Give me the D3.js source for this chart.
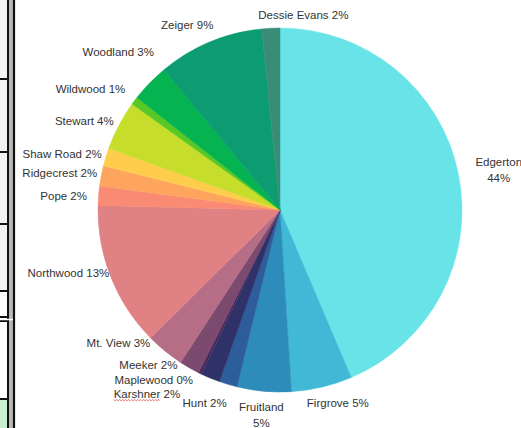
<!DOCTYPE html>
<html>
<head>
<meta charset="utf-8">
<script src="https://cdn.jsdelivr.net/npm/d3@7"></script>
<style>
  html, body { margin: 0; padding: 0; background: #fff; }
  svg { display: block; }
  .lbl { font-family: "Liberation Sans", Arial, sans-serif; font-size: 11.5px; fill: #333; }
</style>
</head>
<body>
<svg id="chart" width="521" height="428"></svg>
<script>
// Share of total by school
const schools = ["Edgerton", "Firgrove", "Fruitland", "Hunt", "Karshner", "Maplewood",
  "Meeker", "Mt. View", "Northwood", "Pope", "Ridgecrest", "Shaw Road", "Stewart",
  "Wildwood", "Woodland", "Zeiger", "Dessie Evans"];
const shares = [43.6, 5.4, 4.8, 1.6, 1.7, 0.3, 1.8, 3.4, 12.8, 1.7, 1.8, 1.6, 4.4, 0.7, 3.4, 9.4, 1.6];
const sliceColors = ["#68e4e8", "#41b8d5", "#2e8cbb", "#2d5e9b", "#2e3268", "#4b2c60",
  "#7d4a6f", "#b56e85", "#e08184", "#f98b74", "#fda45f", "#ffcd4b", "#c6de2b",
  "#57c826", "#05b350", "#0d9c72", "#3a8c79"];

// Hand-placed label offsets (px) from the default label ring, plus which labels wrap
const labelNudge = {
  "Edgerton": [11, 2], "Firgrove": [9, -13], "Fruitland": [0, -6], "Hunt": [-15, -10],
  "Karshner": [-52, -12], "Maplewood": [-33, -20], "Meeker": [-26, -29],
  "Mt. View": [-27.5, -31], "Northwood": [-14.5, -15], "Pope": [-5, 3],
  "Ridgecrest": [-12, 3], "Shaw Road": [-15, 6], "Stewart": [-8, 10],
  "Wildwood": [-20, 6], "Woodland": [-10, -10], "Zeiger": [-11, 11], "Dessie Evans": [34, 17]
};
const wrapped = new Set(["Edgerton", "Fruitland"]);

const svg = d3.select("#chart");

// Spreadsheet grid peeking in at the left edge
const gridRows = [
  { y0: 0, y1: 79, fill: "#f2f2f2" },
  { y0: 79, y1: 152, fill: "#f2f2f2" },
  { y0: 152, y1: 224, fill: "#f2f2f2" },
  { y0: 224, y1: 291, fill: "#f2f2f2" },
  { y0: 291, y1: 318, fill: "#ffffff" },
  { y0: 321, y1: 399, fill: "#ffffff" },
  { y0: 399, y1: 428, fill: "#c6efce" }
];
const grid = svg.append("g");
grid.selectAll("rect.cell").data(gridRows).join("rect")
  .attr("x", 0).attr("y", d => d.y0).attr("width", 8).attr("height", d => d.y1 - d.y0)
  .attr("fill", d => d.fill);
grid.selectAll("line.row").data(gridRows.slice(1)).join("line")
  .attr("x1", 0).attr("x2", 8).attr("y1", d => d.y0).attr("y2", d => d.y0)
  .attr("stroke", "#111").attr("stroke-width", 2);
grid.append("line").attr("x1", 0).attr("x2", 8).attr("y1", 317).attr("y2", 317)
  .attr("stroke", "#111").attr("stroke-width", 2);
grid.append("rect").attr("x", 9).attr("y", 0).attr("width", 4).attr("height", 428).attr("fill", "#b8b8b8");
grid.append("line").attr("x1", 8).attr("x2", 8).attr("y1", 0).attr("y2", 428)
  .attr("stroke", "#111").attr("stroke-width", 2);
grid.append("line").attr("x1", 14).attr("x2", 14).attr("y1", 0).attr("y2", 428)
  .attr("stroke", "#111").attr("stroke-width", 2.2);
grid.append("line").attr("x1", 0).attr("x2", 13).attr("y1", 319.5).attr("y2", 319.5)
  .attr("stroke", "#fff").attr("stroke-width", 1.5);

// Pie
const cx = 280, cy = 210, radius = 182;
const total = d3.sum(shares);
const data = schools.map((name, i) => ({ name, value: shares[i], color: sliceColors[i] }));

const pie = d3.pie().value(d => d.value).sort(null);
const arc = d3.arc().innerRadius(0).outerRadius(radius);
const labelArc = d3.arc().innerRadius(radius + 30).outerRadius(radius + 30);

const g = svg.append("g").attr("transform", `translate(${cx},${cy})`);
const arcs = pie(data);

g.selectAll("path.slice").data(arcs).join("path")
  .attr("class", "slice")
  .attr("d", arc)
  .attr("fill", d => d.data.color)
  .attr("stroke", d => d.data.color)
  .attr("stroke-width", 0.5);

const fmt = v => Math.round(v / total * 100) + "%";

const labels = g.selectAll("text.lbl").data(arcs).join("text")
  .attr("class", "lbl")
  .attr("text-anchor", "middle")
  .attr("transform", d => {
    const [x, y] = labelArc.centroid(d);
    const [nx, ny] = labelNudge[d.data.name] || [0, 0];
    return `translate(${x + nx},${y + ny})`;
  });

labels.each(function(d) {
  const t = d3.select(this);
  if (wrapped.has(d.data.name)) {
    t.append("tspan").attr("x", 0).attr("y", -8).attr("dy", "0.35em").text(d.data.name);
    t.append("tspan").attr("x", 0).attr("y", 8).attr("dy", "0.35em").text(fmt(d.data.value));
  } else {
    t.attr("dy", "0.35em").text(`${d.data.name} ${fmt(d.data.value)}`);
  }
});

// Spell-check squiggle under "Karshner"
labels.filter(d => d.data.name === "Karshner").each(function(d) {
  const bb = this.getBBox();
  const w = this.getSubStringLength(0, d.data.name.length);
  const [x, y] = labelArc.centroid(d);
  const [nx, ny] = labelNudge[d.data.name];
  const x0 = x + nx + bb.x, yBase = y + ny + 6;
  const pts = [];
  for (let px = 0, k = 0; px <= w; px += 1.5, k++) pts.push([x0 + px, yBase + (k % 2 ? 0.9 : -0.3)]);
  g.append("path").attr("d", d3.line()(pts)).attr("fill", "none")
    .attr("stroke", "#e25b5b").attr("stroke-width", 0.8);
});
</script>
</body>
</html>
